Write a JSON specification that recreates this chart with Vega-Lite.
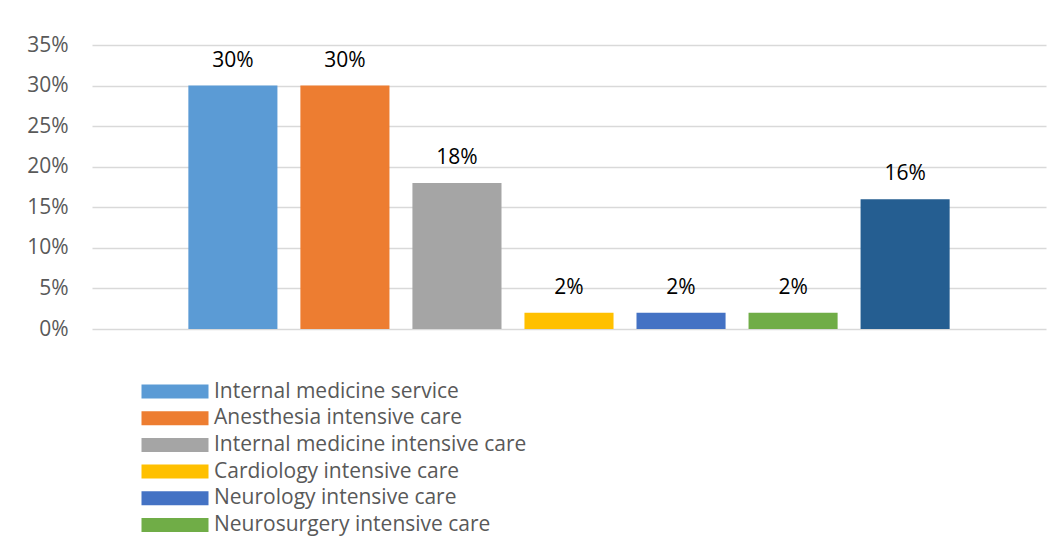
{
  "$schema": "https://vega.github.io/schema/vega-lite/v6.json",
  "width": 954,
  "height": 284,
  "autosize": {"type": "none"},
  "padding": {"left": 92, "top": 45, "right": 15, "bottom": 210},
  "background": "white",
  "data": {
    "values": [
      {"unit": "Internal medicine service", "share": 0.30},
      {"unit": "Anesthesia intensive care", "share": 0.30},
      {"unit": "Internal medicine intensive care", "share": 0.18},
      {"unit": "Cardiology intensive care", "share": 0.02},
      {"unit": "Neurology intensive care", "share": 0.02},
      {"unit": "Neurosurgery intensive care", "share": 0.02},
      {"unit": "Other services", "share": 0.16}
    ]
  },
  "encoding": {
    "x": {
      "field": "unit",
      "type": "nominal",
      "sort": null,
      "axis": null,
      "scale": {"paddingInner": 0.205, "paddingOuter": 0.86}
    },
    "y": {
      "field": "share",
      "type": "quantitative",
      "scale": {"domain": [0, 0.35], "nice": false},
      "axis": {
        "values": [0, 0.05, 0.1, 0.15, 0.2, 0.25, 0.3, 0.35],
        "format": ".0%",
        "title": null,
        "ticks": false,
        "domain": false,
        "labelPadding": 24,
        "labelFont": "Open Sans",
        "labelFontSize": 21,
        "labelColor": "#595959",
        "gridColor": "#D9D9D9",
        "gridWidth": 1.3
      }
    }
  },
  "layer": [
    {
      "mark": {"type": "bar"},
      "encoding": {
        "color": {
          "field": "unit",
          "type": "nominal",
          "sort": null,
          "scale": {
            "domain": [
              "Internal medicine service",
              "Anesthesia intensive care",
              "Internal medicine intensive care",
              "Cardiology intensive care",
              "Neurology intensive care",
              "Neurosurgery intensive care",
              "Other services"
            ],
            "range": ["#5B9BD5", "#ED7D31", "#A5A5A5", "#FFC000", "#4472C4", "#70AD47", "#255E91"]
          },
          "legend": {
            "orient": "none",
            "legendX": 49,
            "legendY": 336,
            "title": null,
            "padding": 0,
            "values": [
              "Internal medicine service",
              "Anesthesia intensive care",
              "Internal medicine intensive care",
              "Cardiology intensive care",
              "Neurology intensive care",
              "Neurosurgery intensive care"
            ],
            "symbolType": "M-1,-0.7H5.7V0.7H-1Z",
            "symbolSize": 400,
            "symbolStrokeWidth": 0,
            "symbolOpacity": 1,
            "labelFont": "Open Sans",
            "labelFontSize": 21,
            "labelColor": "#595959",
            "labelOffset": 52,
            "rowPadding": 4.7,
            "labelLimit": 600
          }
        }
      }
    },
    {
      "mark": {
        "type": "text",
        "baseline": "alphabetic",
        "dy": -19,
        "font": "Open Sans",
        "fontSize": 21,
        "color": "#000000"
      },
      "encoding": {
        "text": {"field": "share", "type": "quantitative", "format": ".0%"}
      }
    }
  ],
  "config": {"view": {"stroke": null}}
}
